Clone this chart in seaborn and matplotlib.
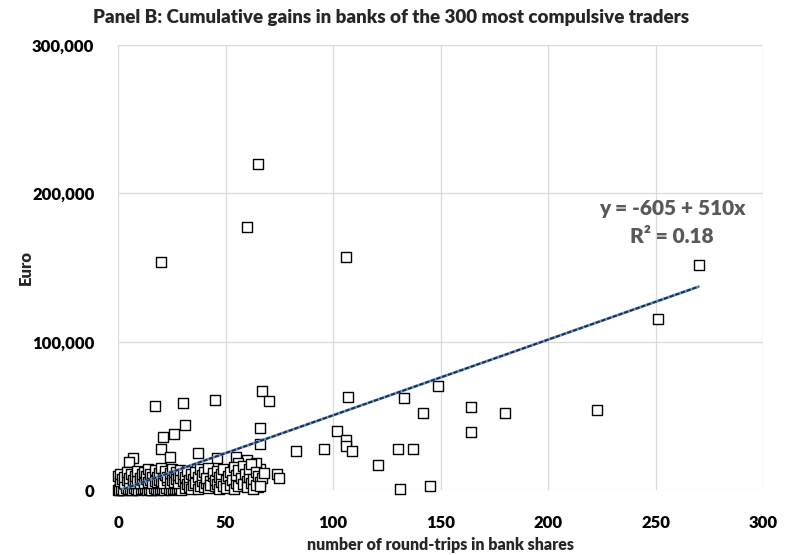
import matplotlib
matplotlib.use("Agg")
import matplotlib.pyplot as plt
import seaborn as sns
import numpy as np
import pandas as pd
from matplotlib.ticker import FuncFormatter

# Round-trips in bank shares and cumulative gains (euro) per trader
round_trips = [
    # notable traders
    65, 60, 20, 106, 270, 251, 223, 180, 164, 164, 149, 142, 133, 130, 137, 121, 131, 145,
    107, 102, 106, 106, 109, 96, 83, 67, 70, 66, 66, 45, 30, 17, 31, 21, 26, 20, 24, 7, 5,
    37, 46, 55, 60, 56, 66, 74, 75, 65, 57, 64,
    # low band
    0, 1, 1, 1, 2, 2, 2, 3, 3, 3, 4, 4, 4, 5, 5, 6, 6, 6, 7, 7, 7, 8, 8, 9, 9, 9, 10, 10,
    11, 11, 12, 12, 13, 13, 14, 14, 15, 15, 16, 16, 17, 17, 18, 18, 19, 19, 20, 20, 21, 21,
    22, 23, 23, 24, 25, 26, 27, 28, 29, 30,
    # very frequent near-zero gains
    0.5, 1.5, 2.5, 3.5, 4.5, 5.5, 6.5, 7.5, 8.5, 9.5, 10.5, 11.5, 12.5, 13.5, 14.5, 15.5,
    16.5, 17.5, 18.5, 19.5, 20.5, 21.5, 22.5, 23.5, 24.5, 25.5, 26.5, 27.5, 28.5, 29.5,
    # middle band
    0, 1, 1, 2, 3, 3, 4, 4, 5, 5, 6, 7, 7, 8, 8, 9, 9, 10, 10, 11, 11, 12, 12, 13, 13, 14,
    14, 15, 15, 16, 16, 17, 17, 18, 18, 19, 19, 20, 20, 21, 21, 22, 22, 23, 23, 24, 24, 25,
    25, 26, 26, 27, 27, 28, 28, 29, 29, 30, 30,
    # 30 to 50 round-trips
    31, 31, 32, 32, 33, 33, 34, 34, 35, 35, 36, 36, 37, 37, 38, 38, 39, 39, 40, 40, 41, 41,
    42, 42, 43, 43, 44, 44, 45, 45, 46, 46, 47, 47, 48, 48, 49, 49, 50, 50,
    # 50 to 68 round-trips
    51, 52, 52, 53, 54, 54, 55, 55, 56, 56, 57, 58, 58, 59, 60, 60, 61, 61, 62, 62, 63, 63,
    64, 64, 65, 66, 67, 68, 66,
]
gains_euro = [
    220000, 177000, 154000, 157000, 152000, 115000, 54000, 52000, 56000, 39000, 70000, 52000,
    62000, 28000, 28000, 17000, 1000, 3000, 63000, 40000, 34000, 30000, 26500, 28000, 26000,
    67000, 60000, 42000, 31000, 61000, 59000, 57000, 44000, 36000, 37500, 28000, 22500, 21300,
    18600, 25000, 21700, 22400, 20600, 18000, 14000, 10800, 7900, 1800, 3400, 18000,
    200, 500, 1500, 3000, 300, 1200, 2500, 800, 2000, 4000, 400, 1600, 3200, 1000, 2300, 600,
    1800, 3600, 300, 1400, 2800, 900, 2100, 500, 1700, 3400, 1100, 2600, 400, 1900, 800, 3000,
    1300, 2400, 600, 3800, 1500, 2700, 300, 2000, 1200, 3300, 700, 2500, 1600, 3900, 400, 2200,
    1000, 3100, 1800, 600, 2900, 1400, 2300, 800, 3500, 1900, 500, 2800,
    100, 700, 200, 1100, 400, 900, 150, 1300, 600, 250, 1000, 450, 1200, 350, 800, 100,
    1400, 550, 200, 950, 650, 300, 1250, 500, 150, 1050, 700, 400, 1150, 250,
    9500, 6000, 11000, 7500, 5000, 9000, 6500, 12500, 4500, 8000, 10500, 5500, 7000, 4500, 9500,
    6000, 13000, 5000, 8000, 6500, 10500, 4800, 12000, 7500, 9500, 5500, 14000, 6800, 11000,
    8500, 4500, 6000, 13500, 9000, 5200, 7000, 11500, 6000, 15000, 8000, 4800, 10000, 13000,
    6500, 8500, 5000, 11500, 7000, 14500, 9500, 5500, 12000, 7500, 4500, 10000, 8000, 13500,
    6000, 11000,
    1500, 9000, 4000, 13000, 6500, 2000, 10500, 500, 7500, 3500, 12000, 5000, 1000, 8500, 14500,
    3000, 6000, 10000, 2000, 12500, 4500, 8000, 1200, 15000, 6000, 3200, 9500, 11500, 2500, 7000,
    13000, 4000, 800, 9000, 5500, 11000, 2800, 14000, 6500, 1500,
    9500, 3500, 12500, 7000, 1000, 15500, 5000, 10000, 2500, 13500, 8000, 4000, 16500, 11000,
    6000, 2000, 9000, 14500, 4500, 17500, 7500, 1000, 12000, 3500, 9500, 5500, 8000, 11500, 3000,
]

# Linear trend reported for the sample
trend_intercept = -605
trend_slope = 510
trend_r2 = 0.18

x_ticks = [0, 50, 100, 150, 200, 250, 300]
y_ticks = [0, 100000, 200000, 300000]

df = pd.DataFrame({"trips": round_trips, "gain": gains_euro})

sns.set_theme(style="white")
plt.rcParams["font.family"] = ["Lato", "DejaVu Sans"]
W = "heavy"

fig = plt.figure(figsize=(7.87, 5.55), dpi=100)
ax = fig.add_axes([0.150, 0.117, 0.8195, 0.8019])

grid_col = "#D9D9D9"
for xv in x_ticks:
    ax.axvline(xv, color=grid_col, lw=0.9, zorder=0)
for yv in y_ticks:
    ax.axhline(yv, color=grid_col, lw=0.9, zorder=0)

sns.scatterplot(data=df, x="trips", y="gain", marker="s", s=46, facecolor="white",
                edgecolor="black", linewidth=1.0, ax=ax, zorder=3, clip_on=False)

# Trend line across the observed range
tx = np.array([min(round_trips), max(round_trips)])
trend = pd.DataFrame({"trips": tx, "fit": trend_intercept + trend_slope * tx})
sns.lineplot(data=trend, x="trips", y="fit", color="#6A9BD1", lw=2.0, ax=ax, zorder=4)
sns.lineplot(data=trend, x="trips", y="fit", color="#1F2A4A", lw=1.4, ax=ax, zorder=5,
             dashes=False, linestyle=(0, (2.2, 0.9)))

ax.set_xlim(0, 300)
ax.set_ylim(0, 300000)
ax.set_xticks(x_ticks)
ax.set_yticks(y_ticks)
ax.yaxis.set_major_formatter(FuncFormatter(lambda v, p: f"{int(v):,}"))
for s in ax.spines.values():
    s.set_visible(False)
ax.tick_params(axis="both", length=0, labelsize=12, colors="black")
ax.tick_params(axis="x", pad=18)
ax.tick_params(axis="y", pad=17)
for lab in ax.get_xticklabels() + ax.get_yticklabels():
    lab.set_fontweight(W)

ax.set_xlabel("number of round-trips in bank shares", fontsize=11.5, fontweight=W,
              va="center")
ax.xaxis.set_label_coords(0.5, -0.1236)
ax.set_ylabel("Euro", fontsize=12, fontweight=W, va="center")
ax.yaxis.set_label_coords(-0.1426, 0.5)

ax.text(257.7, 190000, f"y = {trend_intercept} + {trend_slope}x", ha="center", va="center",
        fontsize=15, fontweight=W, color="#595959")
ax.text(257.7, 171000, f"R² = {trend_r2:.2f}", ha="center", va="center",
        fontsize=15, fontweight=W, color="#595959")

fig.suptitle("Panel B: Cumulative gains in banks of the 300 most compulsive traders",
             x=0.497, y=0.969, va="center", fontsize=13.5, fontweight=W)

fig.savefig("out.png", dpi=100)
